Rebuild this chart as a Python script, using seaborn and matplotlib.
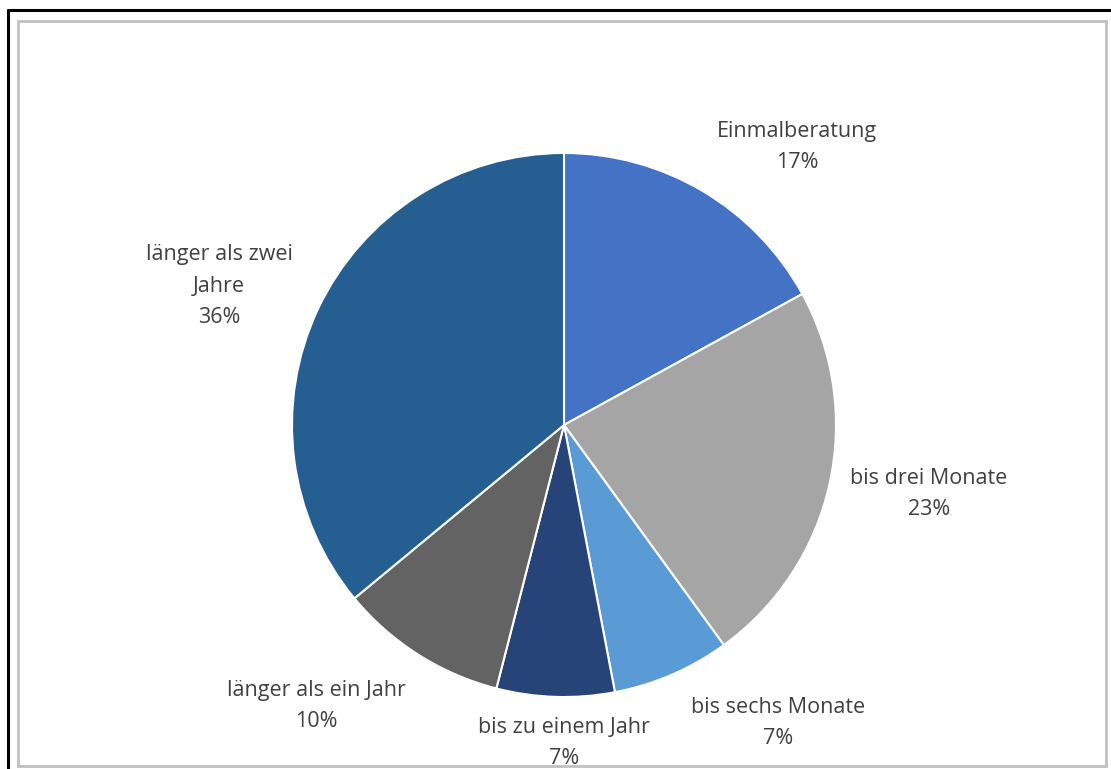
import matplotlib
matplotlib.use("Agg")
import matplotlib.pyplot as plt
import seaborn as sns
from matplotlib.patches import Rectangle
from matplotlib.lines import Line2D

categories = ["Einmalberatung", "bis drei Monate", "bis sechs Monate",
              "bis zu einem Jahr", "länger als ein Jahr", "länger als zwei Jahre"]
label_texts = ["Einmalberatung", "bis drei Monate", "bis sechs Monate",
               "bis zu einem Jahr", "länger als ein Jahr", "länger als zwei\nJahre"]
values = [17, 23, 7, 7, 10, 36]
colors = ["#4472C4", "#A5A5A5", "#5B9BD5", "#264478", "#636363", "#255E91"]

# label anchor positions (layout, pixel coords from top-left)
label_pos = [(797, 147), (929, 494), (778, 723), (564, 743), (316, 706), (219, 286)]

sns.set_theme(style="white")
plt.rcParams['font.family'] = ['Open Sans', 'DejaVu Sans']

W, H = 1111, 769
fig = plt.figure(figsize=(W / 100, H / 100), dpi=100)
ax = fig.add_axes([0, 0, 1, 1])

palette = sns.color_palette(colors)
ax.pie(values, colors=palette, startangle=90, counterclock=False,
       center=(564, H - 425), radius=272, frame=True,
       wedgeprops=dict(edgecolor='white', linewidth=1.5))
ax.set_xlim(0, W)
ax.set_ylim(0, H)
ax.set_aspect('equal')
ax.axis('off')

for txt, v, (x, y) in zip(label_texts, values, label_pos):
    ax.text(x, H - y, f"{txt}\n{v}%", ha='center', va='center',
            fontsize=15.5, color='#404040', linespacing=1.65)

# inner grey frame
ax.add_patch(Rectangle((18, H - 766), 1106 - 18, 766 - 21, fill=False,
                       edgecolor='#C0C0C0', linewidth=2, clip_on=False, zorder=5))
# outer black lines (top and left)
ax.add_line(Line2D([8, W], [H - 10, H - 10], color='black', linewidth=2.2, zorder=6))
ax.add_line(Line2D([8, 8], [H - 10, 0], color='black', linewidth=2.2, zorder=6))

fig.savefig("out.png", dpi=100)
